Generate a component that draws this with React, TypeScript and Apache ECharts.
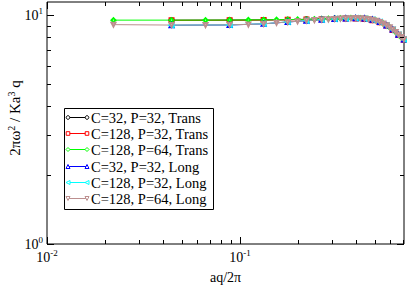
import React, { useEffect, useRef } from "react";
import * as echarts from "echarts";

// aq/2π sample points
const qP32 = [0.0442, 0.0884, 0.1326, 0.1768, 0.221, 0.2652, 0.3094, 0.3536, 0.3977, 0.4419, 0.4861, 0.5303, 0.5745, 0.6187, 0.6629, 0.7071];
const qP64 = [0.0221, 0.0442, 0.0663, 0.0884, 0.1105, 0.1326, 0.1547, 0.1768, 0.1989, 0.221, 0.2431, 0.2652, 0.2873, 0.3094, 0.3315, 0.3536, 0.3757, 0.3977, 0.4198, 0.4419, 0.464, 0.4861, 0.5082, 0.5303, 0.5524, 0.5745, 0.5966, 0.6187, 0.6408, 0.6629, 0.685, 0.7071];

// 2πω² / Ka³q
const transC32P32 = [9.49, 9.5, 9.52, 9.54, 9.57, 9.61, 9.65, 9.69, 9.7, 9.66, 9.54, 9.32, 9.01, 8.63, 8.2, 7.81];
const transC128P32 = [9.48, 9.49, 9.51, 9.53, 9.56, 9.59, 9.62, 9.65, 9.66, 9.62, 9.5, 9.29, 8.99, 8.61, 8.19, 7.8];
const transC128P64 = [9.5, 9.5, 9.5, 9.51, 9.52, 9.53, 9.54, 9.55, 9.57, 9.58, 9.6, 9.62, 9.64, 9.66, 9.68, 9.7, 9.71, 9.71, 9.7, 9.67, 9.62, 9.55, 9.45, 9.33, 9.18, 9.02, 8.84, 8.64, 8.43, 8.21, 8.0, 7.82];
const longC32P32 = [9.02, 9.05, 9.15, 9.32, 9.45, 9.54, 9.61, 9.66, 9.69, 9.65, 9.53, 9.32, 9.01, 8.64, 8.21, 7.82];
const longC128P32 = [9.03, 9.06, 9.16, 9.33, 9.46, 9.55, 9.62, 9.67, 9.69, 9.65, 9.54, 9.33, 9.02, 8.64, 8.22, 7.83];
const longC128P64 = [9.08, 9.04, 9.04, 9.06, 9.1, 9.16, 9.25, 9.33, 9.4, 9.46, 9.51, 9.55, 9.59, 9.62, 9.65, 9.68, 9.69, 9.7, 9.69, 9.66, 9.61, 9.54, 9.45, 9.33, 9.18, 9.02, 8.84, 8.65, 8.44, 8.22, 8.01, 7.83];

const seriesNames = [
  "C=32, P=32, Trans",
  "C=128, P=32, Trans",
  "C=128, P=64, Trans",
  "C=32, P=32, Long",
  "C=128, P=32, Long",
  "C=128, P=64, Long",
];
const seriesColors = ["#000000", "#ff0000", "#00ff00", "#0000ff", "#00ffff", "#bc8f8f"];
const seriesSymbols = ["circle", "square", "diamond", "triUp", "triLeft", "triDown"];

// tick values
const xMajorTicks = [0.01, 0.1];
const xMinorTicks = [0.02, 0.03, 0.04, 0.05, 0.06, 0.07, 0.08, 0.09, 0.2, 0.3, 0.4, 0.5, 0.6, 0.7];
const yMajorTicks = [1, 10];
const yMinorTicks = [2, 3, 4, 5, 6, 7, 8, 9];

const X_MIN = 0.01;
const X_MAX = 0.708;
const Y_MIN = 1;
const Y_MAX = 11.4;

const FONT = "'Liberation Serif', 'Times New Roman', serif";

function echartsSymbol(kind: string) {
  switch (kind) {
    case "circle": return { symbol: "emptyCircle", rotate: 0 };
    case "square": return { symbol: "emptyRect", rotate: 0 };
    case "diamond": return { symbol: "emptyDiamond", rotate: 0 };
    case "triUp": return { symbol: "emptyTriangle", rotate: 0 };
    case "triLeft": return { symbol: "emptyTriangle", rotate: 90 };
    default: return { symbol: "emptyTriangle", rotate: 180 };
  }
}

function legendSymbol(kind: string, cx: number, cy: number, color: string) {
  const style = { fill: "#fff", stroke: color, lineWidth: 1 };
  const r = 2;
  switch (kind) {
    case "circle": return { type: "circle", shape: { cx, cy, r: 1.8 }, style };
    case "square": return { type: "rect", shape: { x: cx - 1.8, y: cy - 1.8, width: 3.6, height: 3.6 }, style };
    case "diamond": return { type: "polygon", shape: { points: [[cx, cy - r], [cx + r, cy], [cx, cy + r], [cx - r, cy]] }, style };
    case "triUp": return { type: "polygon", shape: { points: [[cx, cy - r], [cx + r, cy + r], [cx - r, cy + r]] }, style };
    case "triLeft": return { type: "polygon", shape: { points: [[cx - r, cy], [cx + r, cy - r], [cx + r, cy + r]] }, style };
    default: return { type: "polygon", shape: { points: [[cx, cy + r], [cx + r, cy - r], [cx - r, cy - r]] }, style };
  }
}

function isPow10(v: number) {
  const l = Math.log10(v);
  return Math.abs(l - Math.round(l)) < 1e-6;
}

const labelRich = {
  b: { fontFamily: FONT, fontSize: 14, color: "#000", lineHeight: 18 },
  s: { fontFamily: FONT, fontSize: 9, color: "#000", verticalAlign: "top", lineHeight: 10 },
};

export default function App() {
  const ref = useRef<HTMLDivElement>(null);
  useEffect(() => {
    if (!ref.current) return;
    const chart = echarts.init(ref.current, undefined, { renderer: "svg" });

    const seriesQ = [qP32, qP32, qP64, qP32, qP32, qP64];
    const seriesV = [transC32P32, transC128P32, transC128P64, longC32P32, longC128P32, longC128P64];

    const lineSeries = seriesNames.map((name, i) => {
      const sym = echartsSymbol(seriesSymbols[i]);
      return {
        type: "line",
        name,
        data: seriesQ[i].map((q, k) => [q, seriesV[i][k]]),
        symbol: sym.symbol,
        symbolRotate: sym.rotate,
        symbolSize: 4,
        showSymbol: true,
        lineStyle: { color: seriesColors[i], width: 1 },
        itemStyle: { color: seriesColors[i], borderColor: seriesColors[i], borderWidth: 1 },
        emphasis: { disabled: true },
        z: 2,
      };
    });

    const xTickData = [
      ...xMajorTicks.map((q) => [q, 5, 1]),
      ...xMinorTicks.map((q) => [q, 5, 0]),
    ];
    const yTickData = [
      ...yMajorTicks.map((v) => [0.1, v, 1]),
      ...yMinorTicks.map((v) => [0.1, v, 0]),
    ];

    const tickStyle = { stroke: "#000", lineWidth: 1 };

    const xTickSeries = {
      type: "custom",
      data: xTickData,
      encode: { x: 0, y: 1 },
      clip: false,
      silent: true,
      z: 5,
      renderItem: (params: any, api: any) => {
        const q = api.value(0);
        const len = api.value(2) ? 7 : 4;
        const b = api.coord([q, Y_MIN]);
        const t = api.coord([q, Y_MAX]);
        const x = Math.round(b[0]) + 0.5;
        return {
          type: "group",
          children: [
            { type: "line", shape: { x1: x, y1: b[1], x2: x, y2: b[1] - len }, style: tickStyle },
            { type: "line", shape: { x1: x, y1: t[1], x2: x, y2: t[1] + len }, style: tickStyle },
          ],
        };
      },
    };

    const yTickSeries = {
      type: "custom",
      data: yTickData,
      encode: { x: 0, y: 1 },
      clip: false,
      silent: true,
      z: 5,
      renderItem: (params: any, api: any) => {
        const v = api.value(1);
        const len = api.value(2) ? 7 : 4;
        const l = api.coord([X_MIN, v]);
        const r = api.coord([X_MAX, v]);
        const y = Math.round(l[1]) + 0.5;
        return {
          type: "group",
          children: [
            { type: "line", shape: { x1: l[0], y1: y, x2: l[0] + len, y2: y }, style: tickStyle },
            { type: "line", shape: { x1: r[0], y1: y, x2: r[0] - len, y2: y }, style: tickStyle },
          ],
        };
      },
    };

    // legend graphics
    const lgX = 64.5, lgY = 108.5, lgW = 149, lgH = 101;
    const rowY0 = 117, rowDy = 16.2;
    const legendChildren: any[] = [
      { type: "rect", shape: { x: lgX, y: lgY, width: lgW, height: lgH }, style: { fill: "#fff", stroke: "#000", lineWidth: 1 } },
    ];
    seriesNames.forEach((name, i) => {
      const cy = Math.round(rowY0 + i * rowDy) + 0.5;
      const c = seriesColors[i];
      legendChildren.push({ type: "line", shape: { x1: 68, y1: cy, x2: 87, y2: cy }, style: { stroke: c, lineWidth: 1 } });
      legendChildren.push(legendSymbol(seriesSymbols[i], 68, cy, c));
      legendChildren.push(legendSymbol(seriesSymbols[i], 87, cy, c));
      legendChildren.push({
        type: "text",
        x: 91,
        y: cy,
        style: { text: name, fontFamily: FONT, fontSize: 14.5, fill: "#000", verticalAlign: "middle", align: "left" },
      });
    });

    chart.setOption({
      animation: false,
      grid: {
        left: 47,
        top: 2,
        width: 357,
        height: 249,
        show: true,
        borderColor: "#000",
        borderWidth: 1,
        backgroundColor: "transparent",
      },
      xAxis: {
        type: "log",
        logBase: 10,
        min: X_MIN,
        max: X_MAX,
        axisLine: { show: false },
        axisTick: { show: false },
        splitLine: { show: false },
        minorTick: { show: false },
        axisLabel: {
          margin: 4,
          showMinLabel: true,
          showMaxLabel: true,
          hideOverlap: false,
          formatter: (v: number) => (isPow10(v) ? `{b|10}{s|${Math.round(Math.log10(v))}}` : ""),
          rich: labelRich,
        },
        name: "aq/2π",
        nameLocation: "middle",
        nameGap: 26,
        nameTextStyle: { fontFamily: FONT, fontSize: 14, color: "#000" },
      },
      yAxis: {
        type: "log",
        logBase: 10,
        min: Y_MIN,
        max: Y_MAX,
        axisLine: { show: false },
        axisTick: { show: false },
        splitLine: { show: false },
        minorTick: { show: false },
        axisLabel: {
          margin: 4,
          showMinLabel: true,
          showMaxLabel: true,
          hideOverlap: false,
          formatter: (v: number) => (isPow10(v) ? `{b|10}{s|${Math.round(Math.log10(v))}}` : ""),
          rich: labelRich,
        },
      },
      graphic: [
        {
          type: "text",
          x: 15,
          y: 118,
          rotation: Math.PI / 2,
          style: {
            text: "{b|2πω}{s|2}{b| / Ka}{s|3}{b| q}",
            rich: {
              b: { fontFamily: FONT, fontSize: 15, color: "#000", lineHeight: 18 },
              s: { fontFamily: FONT, fontSize: 10, color: "#000", verticalAlign: "top", lineHeight: 10 },
            },
            align: "center",
            verticalAlign: "middle",
          },
        },
        { type: "group", children: legendChildren, z: 100 },
      ],
      series: [...lineSeries, xTickSeries, yTickSeries],
    });
    return () => chart.dispose();
  }, []);
  return <div ref={ref} style={{ width: 407, height: 289, position: "absolute", left: 0, top: 0 }} />;
}
